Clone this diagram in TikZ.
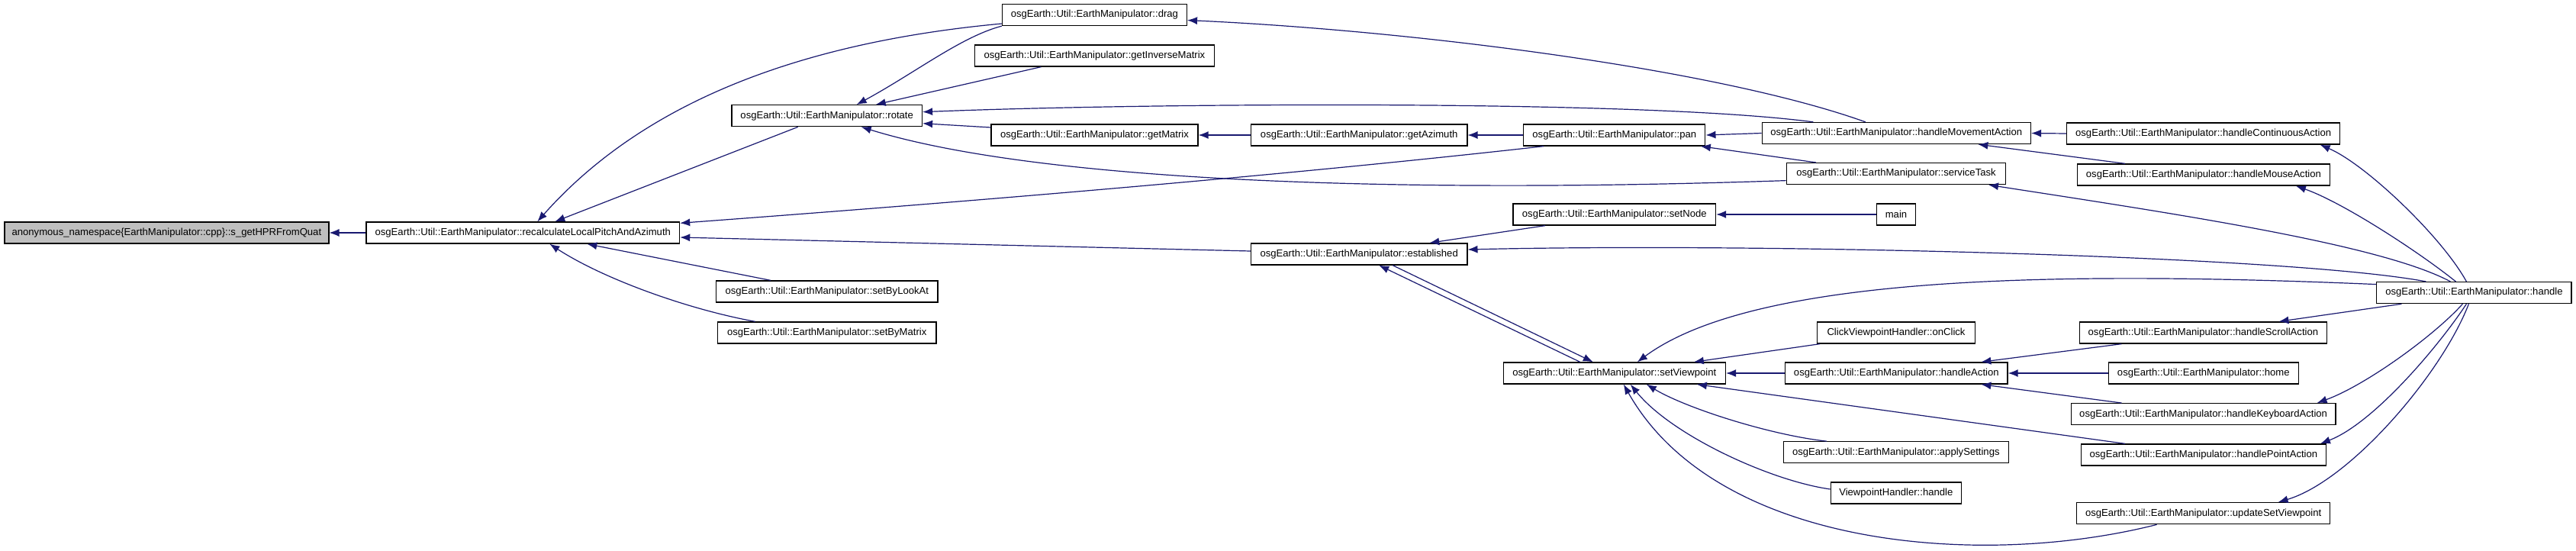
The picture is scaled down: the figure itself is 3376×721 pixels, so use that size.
\documentclass[tikz,border=0pt]{standalone}
\usepackage{fontspec}
\setmainfont{Liberation Sans}
\usepackage{xcolor}
\usetikzlibrary{arrows.meta}
\definecolor{mynavy}{RGB}{25,25,112}
\definecolor{mygray}{RGB}{191,191,191}

\begin{document}
\begin{tikzpicture}[x=1pt,y=-1pt,
  func/.style={draw=black, line width=1.3pt, fill=white, minimum height=28pt, inner sep=0pt,
    font=\fontsize{13.1}{15}\selectfont},
  calls/.style={-{Latex[length=13pt,width=10pt]}, draw=mynavy, line width=1.2pt}]
\path[use as bounding box, fill=white] (0,0) rectangle (3376,721);

\node[func, fill=mygray, minimum width=425pt] (quat) at (218.4,305) {anonymous\_namespace\{EarthManipulator::cpp\}::s\_getHPRFromQuat};
\node[func, minimum width=410.5pt] (recalc) at (685.3,305) {osgEarth::Util::EarthManipulator::recalculateLocalPitchAndAzimuth};

\node[func, minimum width=249.5pt] (rotate) at (1083.7,151.7) {osgEarth::Util::EarthManipulator::rotate};
\node[func, minimum width=290.5pt] (setByLookAt) at (1083.8,382) {osgEarth::Util::EarthManipulator::setByLookAt};
\node[func, minimum width=286.5pt] (setByMatrix) at (1083.7,436) {osgEarth::Util::EarthManipulator::setByMatrix};

\node[func, minimum width=242pt] (drag) at (1434.4,19.5) {osgEarth::Util::EarthManipulator::drag};
\node[func, minimum width=313.8pt] (getInvMatrix) at (1434.4,73) {osgEarth::Util::EarthManipulator::getInverseMatrix};
\node[func, minimum width=271pt] (getMatrix) at (1434.5,177) {osgEarth::Util::EarthManipulator::getMatrix};

\node[func, minimum width=283.3pt] (getAzimuth) at (1781.2,177) {osgEarth::Util::EarthManipulator::getAzimuth};
\node[func, minimum width=283.3pt] (established) at (1781.2,333) {osgEarth::Util::EarthManipulator::established};

\node[func, minimum width=238pt] (pan) at (2115.8,177) {osgEarth::Util::EarthManipulator::pan};
\node[func, minimum width=265.5pt] (setNode) at (2115.8,281) {osgEarth::Util::EarthManipulator::setNode};
\node[func, minimum width=291.3pt] (setViewpoint) at (2115.8,489) {osgEarth::Util::EarthManipulator::setViewpoint};

\node[func, minimum width=352.2pt] (moveAction) at (2485.3,174.5) {osgEarth::Util::EarthManipulator::handleMovementAction};
\node[func, minimum width=287.3pt] (serviceTask) at (2485,227.6) {osgEarth::Util::EarthManipulator::serviceTask};
\node[func, minimum width=51pt] (mainfn) at (2485,281) {main};
\node[func, minimum width=207.3pt] (onClick) at (2485,436) {ClickViewpointHandler::onClick};
\node[func, minimum width=291.5pt] (handleAction) at (2485.3,489) {osgEarth::Util::EarthManipulator::handleAction};
\node[func, minimum width=295.2pt] (applySettings) at (2484.8,592.8) {osgEarth::Util::EarthManipulator::applySettings};
\node[func, minimum width=171pt] (vpHandle) at (2484.8,646) {ViewpointHandler::handle};

\node[func, minimum width=357.7pt] (contAction) at (2887.6,175) {osgEarth::Util::EarthManipulator::handleContinuousAction};
\node[func, minimum width=330.6pt] (mouseAction) at (2887.9,229) {osgEarth::Util::EarthManipulator::handleMouseAction};
\node[func, minimum width=324.2pt] (scrollAction) at (2887.4,436) {osgEarth::Util::EarthManipulator::handleScrollAction};
\node[func, minimum width=248.7pt] (home) at (2887.8,489) {osgEarth::Util::EarthManipulator::home};
\node[func, minimum width=346.7pt] (keyAction) at (2887.6,542.7) {osgEarth::Util::EarthManipulator::handleKeyboardAction};
\node[func, minimum width=321.4pt] (pointAction) at (2887.9,596) {osgEarth::Util::EarthManipulator::handlePointAction};
\node[func, minimum width=331.9pt] (updateVP) at (2887.6,672.7) {osgEarth::Util::EarthManipulator::updateSetViewpoint};

\node[func, minimum width=255.2pt] (handle) at (3242.4,383.6) {osgEarth::Util::EarthManipulator::handle};

\draw[calls] (recalc.west) -- (quat.east);
\draw[calls] ([yshift=-11.5pt]drag.west) .. controls (1000,60) and (820,160) .. ([xshift=19pt]recalc.north);
\draw[calls] ([xshift=-38pt]rotate.south) -- ([xshift=42pt]recalc.north);
\draw[calls] ([xshift=-93pt]pan.south) .. controls (1700,228) and (1300,262) .. ([yshift=-2pt]recalc.north east);
\draw[calls] ([yshift=4pt]established.west) -- ([yshift=-6pt]recalc.east);
\draw[calls] ([xshift=-74pt]setByLookAt.north) -- ([xshift=84pt]recalc.south);
\draw[calls] ([xshift=-94pt]setByMatrix.north) .. controls (900,405) and (790,365) .. ([xshift=35pt]recalc.south);

\draw[calls] (drag.south west) .. controls (1260,48) and (1200,95) .. ([xshift=39pt]rotate.north);
\draw[calls] ([xshift=-70pt]getInvMatrix.south) -- ([xshift=64pt]rotate.north);
\draw[calls] ([xshift=-109pt]moveAction.north) .. controls (2150,130) and (1500,135) .. ([yshift=5pt]rotate.east);
\draw[calls] ([yshift=10pt]getMatrix.west) -- ([yshift=-10pt]rotate.east);
\draw[calls] ([yshift=-9pt]serviceTask.west) .. controls (1800,255) and (1350,235) .. ([xshift=45pt]rotate.south);
\draw[calls] ([xshift=-40.5pt]moveAction.north) .. controls (2250,90) and (1850,40) .. ([yshift=-7pt]drag.east);

\draw[calls] (getAzimuth.west) -- (getMatrix.east);
\draw[calls] (pan.west) -- (getAzimuth.east);
\draw[calls] ([xshift=-91pt]setNode.south) -- ([xshift=92pt]established.north);
\draw[calls] ([xshift=-63pt]handle.north) .. controls (3000,335) and (2300,318) .. ([yshift=6pt]established.east);
\draw[calls] ([xshift=44pt]established.south) -- ([xshift=-28pt]setViewpoint.north);
\draw[calls] ([xshift=-45pt]setViewpoint.north) -- ([xshift=26pt]established.south);

\draw[calls] (mainfn.west) -- (setNode.east);
\draw[calls] (moveAction.west) -- (pan.east);
\draw[calls] ([xshift=-105pt]serviceTask.north) -- ([xshift=113pt]pan.south);
\draw[calls] (contAction.west) -- (moveAction.east);
\draw[calls] ([xshift=-103pt]mouseAction.north) -- ([xshift=107pt]moveAction.south);

\draw[calls] ([xshift=-31pt]handle.north) .. controls (3120,320) and (2850,280) .. ([xshift=121pt]serviceTask.south);
\draw[calls] ([xshift=-10pt]handle.north) .. controls (3200,310) and (3100,215) .. ([xshift=153pt]contAction.south);
\draw[calls] ([xshift=-24pt]handle.north) .. controls (3170,330) and (3070,265) .. ([xshift=121pt]mouseAction.south);
\draw[calls] ([yshift=11pt]handle.west) .. controls (2700,355) and (2300,360) .. ([xshift=30pt]setViewpoint.north);
\draw[calls] ([xshift=-95pt]handle.south) -- ([xshift=99pt]scrollAction.north);
\draw[calls] ([xshift=-15pt]handle.south) .. controls (3190,440) and (3100,505) .. ([xshift=149pt]keyAction.north);
\draw[calls] ([xshift=-10pt]handle.south) .. controls (3195,455) and (3110,555) .. ([xshift=153pt]pointAction.north);
\draw[calls] ([xshift=-7pt]handle.south) .. controls (3200,490) and (3080,630) .. ([xshift=98pt]updateVP.north);

\draw[calls] ([xshift=-100pt]onClick.south) -- ([xshift=104pt]setViewpoint.north);
\draw[calls] (handleAction.west) -- (setViewpoint.east);
\draw[calls] ([xshift=-103pt]pointAction.north) -- ([xshift=108pt]setViewpoint.south);
\draw[calls] ([xshift=-91pt]applySettings.north) .. controls (2320,570) and (2210,535) .. ([xshift=42pt]setViewpoint.south);
\draw[calls] ([yshift=5pt]vpHandle.west) .. controls (2320,630) and (2190,570) .. ([xshift=21pt]setViewpoint.south);
\draw[calls] ([xshift=-61pt]updateVP.south) .. controls (2600,745) and (2250,720) .. ([xshift=12pt]setViewpoint.south);
\draw[calls] ([xshift=-107pt]scrollAction.south) -- ([xshift=111pt]handleAction.north);
\draw[calls] (home.west) -- (handleAction.east);
\draw[calls] ([xshift=-107pt]keyAction.north) -- ([xshift=111pt]handleAction.south);
\end{tikzpicture}
\end{document}
